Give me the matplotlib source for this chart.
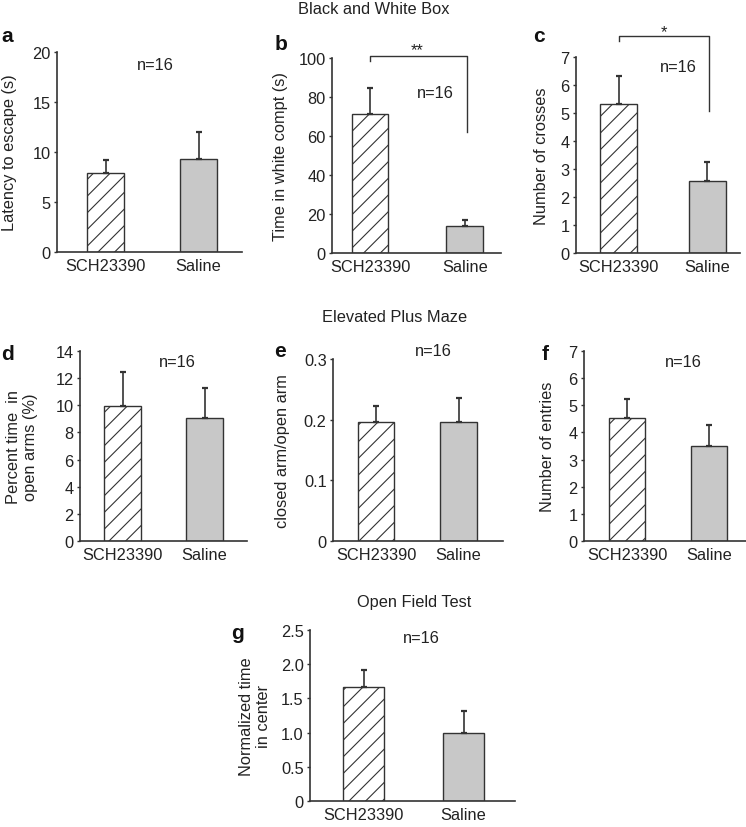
"""
Black and White Box / Elevated Plus Maze / Open Field Test - bar panels a-g
"""
import matplotlib
matplotlib.use("Agg")
import matplotlib.pyplot as plt

plt.rcParams['font.family'] = ['Liberation Sans', 'DejaVu Sans']
plt.rcParams['hatch.linewidth'] = 0.8

# ─── data ─────────────────────────────────────────
groups = ["SCH23390", "Saline"]

latency_mean = [7.9, 9.3]
latency_err = [1.3, 2.7]

white_mean = [71.3, 14.0]
white_err = [13.2, 2.9]

crosses_mean = [5.32, 2.58]
crosses_err = [1.0, 0.66]

open_pct_mean = [9.97, 9.06]
open_pct_err = [2.5, 2.2]

ratio_mean = [0.196, 0.196]
ratio_err = [0.026, 0.039]

entries_mean = [4.55, 3.51]
entries_err = [0.7, 0.78]

center_mean = [1.66, 1.0]
center_err = [0.25, 0.31]

ticks_a = [0, 5, 10, 15, 20]
ticks_b = [0, 20, 40, 60, 80, 100]
ticks_c = [0, 1, 2, 3, 4, 5, 6, 7]
ticks_d = [0, 2, 4, 6, 8, 10, 12, 14]
ticks_e = [0, 0.1, 0.2, 0.3]
ticks_e_lbl = ["0", "0.1", "0.2", "0.3"]
ticks_f = [0, 1, 2, 3, 4, 5, 6, 7]
ticks_g = [0, 0.5, 1.0, 1.5, 2.0, 2.5]
ticks_g_lbl = ["0", "0.5", "1.0", "1.5", "2.0", "2.5"]

# ─── layout (pixels) ──────────────────────────────
W, H = 746, 828
FS = 11.8
EDGE = '#333333'
GRAY = '#c8c8c8'

fig = plt.figure(figsize=(W / 100, H / 100), dpi=100)
fig.patch.set_facecolor('white')


def fx(x):
    return x / W


def fy(y):
    return 1 - y / H


# panel: letter, means, errs, ticks, ticklabels, ylabel,
#        (left, right, top, bottom), (bar centre 1, bar centre 2), bar width,
#        letter pos, ylabel x, n=16 pos
panels = [
    ('a', latency_mean, latency_err, ticks_a, None, 'Latency to escape (s)',
     (57, 242, 53, 253), (105.5, 198.5), 37, (7, 37), 10, (155, 65)),
    ('b', white_mean, white_err, ticks_b, None, 'Time in white compt (s)',
     (332, 501, 59, 254), (370, 464.7), 36.5, (281, 45), 280, (435, 93)),
    ('c', crosses_mean, crosses_err, ticks_c, None, 'Number of crosses',
     (576, 740, 58, 254), (618.5, 707), 37, (539, 37), 542, (678, 68)),
    ('d', open_pct_mean, open_pct_err, ticks_d, None, 'Percent time  in\nopen arms (%)',
     (80, 247, 352, 542), (122.5, 204.5), 37, (8, 355), 22, (177, 363)),
    ('e', ratio_mean, ratio_err, ticks_e, ticks_e_lbl, 'closed arm/open arm',
     (333, 503, 360, 542), (376, 458.5), 36.5, (280, 352), 282, (433, 352)),
    ('f', entries_mean, entries_err, ticks_f, None, 'Number of entries',
     (584, 746, 352, 542), (627, 709), 36.5, (545, 355), 547, (683, 363)),
    ('g', center_mean, center_err, ticks_g, ticks_g_lbl, 'Normalized time\nin center',
     (310, 515, 631, 802), (363.5, 463.5), 41, (237, 634), 255, (421, 639)),
]

axes = {}
for (letter, means, errs, ticks, tlabels, ylabel, box, centres, bw,
     lpos, ylx, npos) in panels:
    left, right, top, bottom = box
    ax = fig.add_axes([fx(left), fy(bottom), (right - left) / W, (bottom - top) / H])
    axes[letter] = ax
    unit = centres[1] - centres[0]
    x = [0, 1]

    ax.bar(x[0], means[0], width=bw / unit, color='white', edgecolor=EDGE,
           hatch='//', linewidth=1.0, zorder=2)
    ax.bar(x[1], means[1], width=bw / unit, color=GRAY, edgecolor=EDGE,
           linewidth=1.0, zorder=2)
    ax.errorbar(x, means, yerr=[[0, 0], errs], fmt='none', ecolor=EDGE,
                elinewidth=1.2, capsize=2.2, capthick=1.6, zorder=3)

    ax.set_xlim((left - centres[0]) / unit, (right - centres[0]) / unit)
    ax.set_ylim(ticks[0], ticks[-1])
    ax.set_yticks(ticks)
    if tlabels is not None:
        ax.set_yticklabels(tlabels)
    ax.set_xticks(x)
    ax.set_xticklabels(groups)

    for s in ['top', 'right']:
        ax.spines[s].set_visible(False)
    for s in ['left', 'bottom']:
        ax.spines[s].set_color(EDGE)
        ax.spines[s].set_linewidth(1.2)
    ax.tick_params(axis='y', direction='out', length=2.5, width=1.0,
                   color=EDGE, pad=2, labelsize=FS, labelcolor='#222222')
    ax.tick_params(axis='x', length=0, pad=4, labelsize=FS, labelcolor='#222222')
    ax.set_facecolor('none')

    fig.text(fx(lpos[0]), fy(lpos[1]), letter, fontsize=15, fontweight='bold',
             ha='center', va='center', color='#111111')
    fig.text(fx(ylx), fy((top + bottom) / 2), ylabel, rotation=90, fontsize=FS,
             ha='center', va='center', color='#222222', linespacing=1.15)
    fig.text(fx(npos[0]), fy(npos[1]), 'n=16', fontsize=FS,
             ha='center', va='center', color='#222222')

# ─── significance brackets ────────────────────────
axes['b'].plot([0, 0, 1.02, 1.02], [98.5, 101, 101, 62], color=EDGE,
               lw=1.0, clip_on=False, zorder=4)
fig.text(fx(417), fy(51), '**', fontsize=FS, ha='center', va='center', color='#222222')

axes['c'].plot([0, 0, 1.02, 1.02], [7.57, 7.75, 7.75, 5.07], color=EDGE,
               lw=1.0, clip_on=False, zorder=4)
fig.text(fx(664), fy(33), '*', fontsize=FS, ha='center', va='center', color='#222222')

# ─── section titles ───────────────────────────────
fig.text(fx(374), fy(10), 'Black and White Box', fontsize=FS,
         ha='center', va='center', color='#222222')
fig.text(fx(395), fy(318), 'Elevated Plus Maze', fontsize=FS,
         ha='center', va='center', color='#222222')
fig.text(fx(414), fy(603), 'Open Field Test', fontsize=FS,
         ha='center', va='center', color='#222222')

fig.savefig('out.png', dpi=100, facecolor='white')
